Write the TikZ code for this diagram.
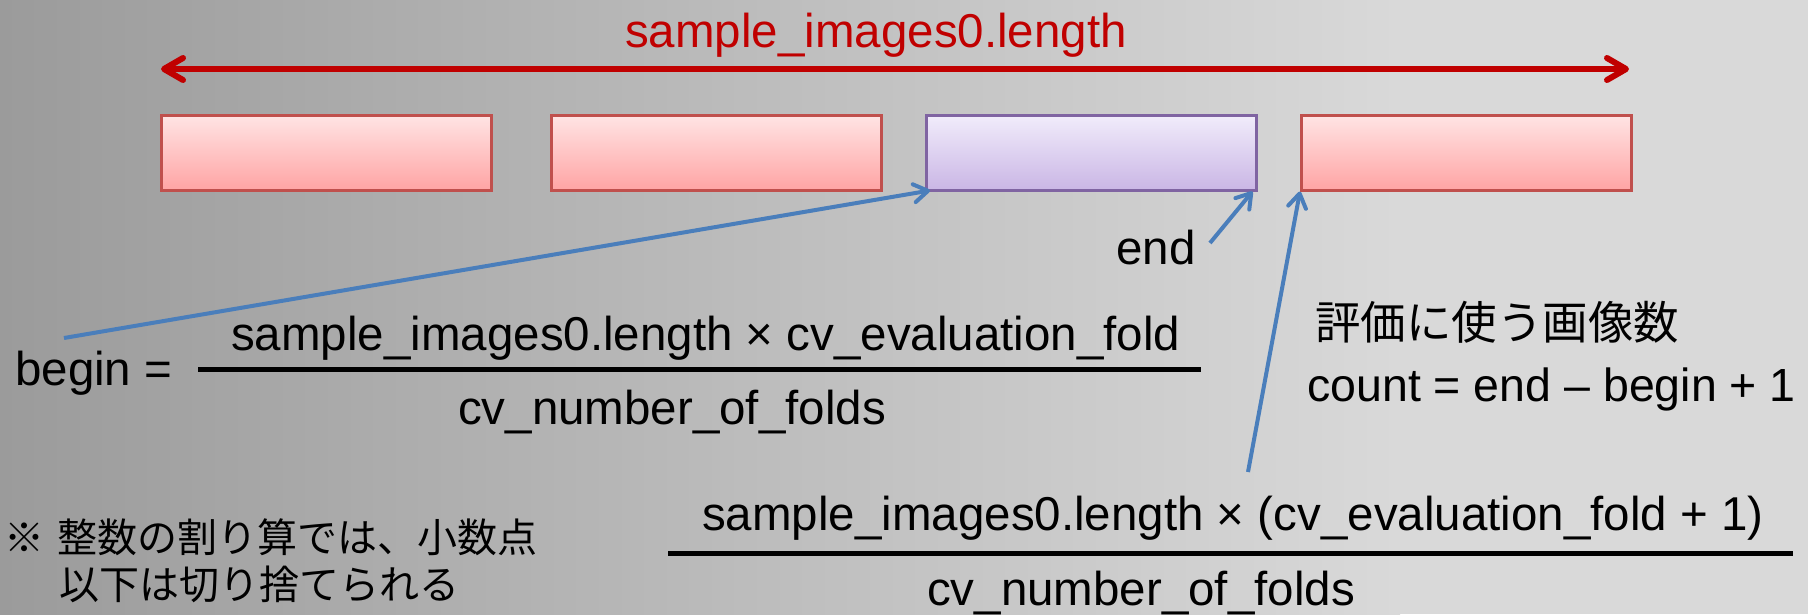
\documentclass[tikz,border=0pt]{standalone}
\usepackage{fontspec}
\setmainfont{Liberation Sans}
\newfontfamily\jp{Noto Sans CJK JP}
\usetikzlibrary{arrows.meta}
\definecolor{redline}{HTML}{C00000}
\definecolor{blueline}{HTML}{4A7EBB}
\definecolor{bgl}{HTML}{9B9B9B}
\definecolor{bgr}{HTML}{D9D9D9}
\definecolor{rtop}{HTML}{FFE4E4}
\definecolor{rbot}{HTML}{FFA4A4}
\definecolor{rbord}{HTML}{C0504D}
\definecolor{ptop}{HTML}{F1ECFB}
\definecolor{pbot}{HTML}{CAB6E5}
\definecolor{pbord}{HTML}{8064A2}
\tikzset{
  redbox/.style={rectangle, inner sep=0, minimum width=330, minimum height=75,
    top color=rtop, bottom color=rbot, draw=rbord, line width=2.5pt},
  purplebox/.style={rectangle, inner sep=0, minimum width=330, minimum height=75,
    top color=ptop, bottom color=pbot, draw=pbord, line width=2.5pt},
  txt/.style={inner sep=0, font=\fontsize{47.5}{57}\selectfont},
  jptxt/.style={inner sep=0, font=\jp\fontsize{45.5}{52}\selectfont},
  notetxt/.style={inner sep=0, font=\jp\fontsize{40}{47}\selectfont},
  redarr/.style={draw=redline, line width=6pt, {Straight Barb[round,length=19pt,width=22pt]}-{Straight Barb[round,length=19pt,width=22pt]}},
  bluearr/.style={draw=blueline, line width=4pt, -{Straight Barb[round,length=14pt,width=18pt]}},
  fracline/.style={draw=black, line width=5pt}
}
\begin{document}
\begin{tikzpicture}[x=1pt,y=-1pt]
\useasboundingbox (0,0) rectangle (1808,614);
\shade[left color=bgl, right color=bgr] (0,0) rectangle (1400,614);
\fill[bgr] (1399,0) rectangle (1808,614);

% boxes
\node[redbox, anchor=north west] (b1) at (160,114) {};
\node[redbox, anchor=north west] (b2) at (550,114) {};
\node[purplebox, anchor=north west] (b3) at (925,114) {};
\node[redbox, anchor=north west] (b4) at (1300,114) {};

% total length arrow
\node[txt, text=redline, anchor=base west] (lbl) at (625,47) {sample\_images0.length};
\coordinate (rl) at (161,69);
\coordinate (rr) at (1629,69);
\draw[redarr] (rl) -- (rr);

% begin formula
\node[txt, anchor=base west] (begin) at (15,385) {begin =};
\node[txt, anchor=base west] (num1) at (231,350) {sample\_images0.length × cv\_evaluation\_fold};
\node[txt, anchor=base west] (den1) at (458,424) {cv\_number\_of\_folds};
\coordinate (f1l) at (198,369);
\coordinate (f1r) at (1201,369);
\draw[fracline] (f1l) -- (f1r);

% end
\node[txt, anchor=base west] (endlbl) at (1116,264) {end};

% count
\node[jptxt, anchor=base west] (jp) at (1315,339) {評価に使う画像数};
\node[txt, anchor=base west, font=\fontsize{46.5}{56}\selectfont] (count) at (1307,401) {count = end – begin + 1};

% end formula
\node[txt, anchor=base west] (num2) at (702,530) {sample\_images0.length × (cv\_evaluation\_fold + 1)};
\coordinate (f2l) at (668,553);
\coordinate (f2r) at (1793,553);
\draw[fracline] (f2l) -- (f2r);
\node[txt, anchor=base west] (den2) at (927,605) {cv\_number\_of\_folds};

% note
\node[notetxt, anchor=base west] (mark) at (4,552) {※};
\node[notetxt, anchor=base west] (note1) at (57,552) {整数の割り算では、小数点};
\node[notetxt, anchor=base west] (note2) at (59,599) {以下は切り捨てられる};

% blue arrows
\coordinate (bs) at (64,338);
\coordinate (es) at (1210,243);
\coordinate (cs) at (1248,472);
\draw[bluearr] (bs) -- ([shift={(5,-1)}]b3.south west);
\draw[bluearr] (es) -- ([shift={(-5,0)}]b3.south east);
\draw[bluearr] (cs) -- (b4.south west);
\end{tikzpicture}
\end{document}
